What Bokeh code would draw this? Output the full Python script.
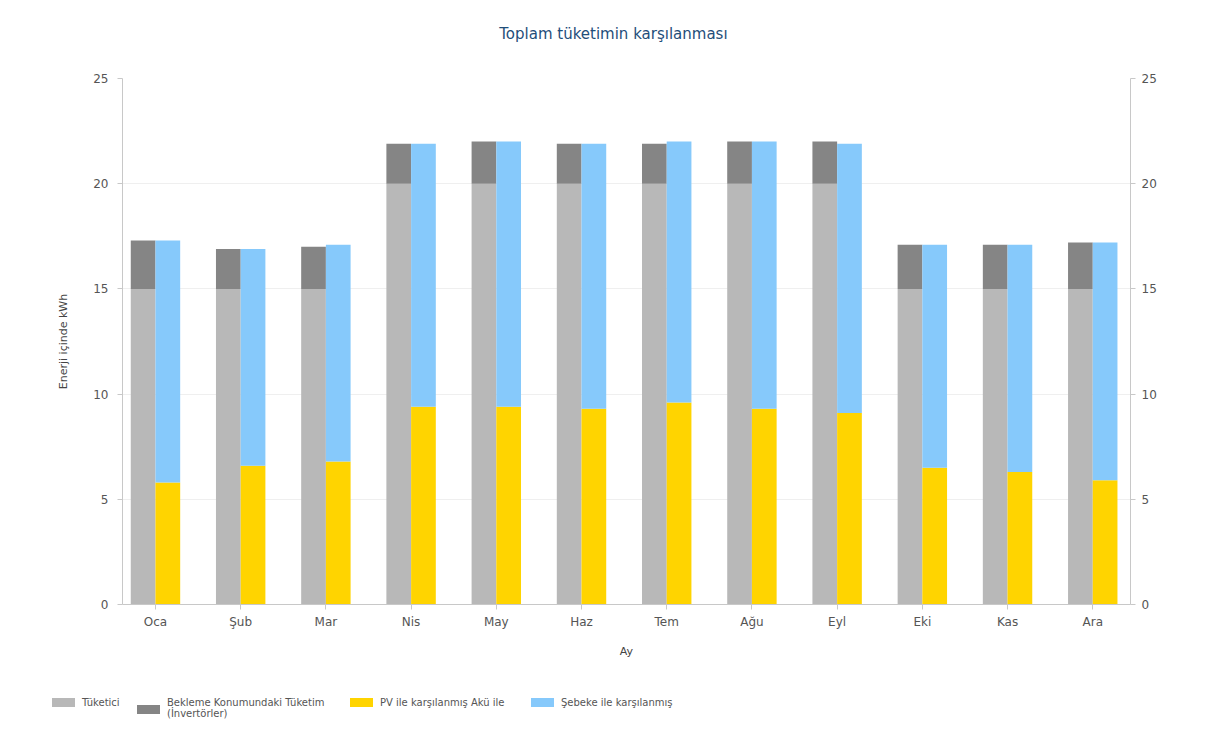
from bokeh.plotting import figure
from bokeh.layouts import column
from bokeh.models import (ColumnDataSource, LinearAxis, FixedTicker, Range1d, Div, Label)
from bokeh.transform import dodge
from bokeh.embed import file_html
from bokeh.resources import INLINE

months = ["Oca", "Şub", "Mar", "Nis", "May", "Haz", "Tem", "Ağu", "Eyl", "Eki", "Kas", "Ara"]
tuketici = [15, 15, 15, 20, 20, 20, 20, 20, 20, 15, 15, 15]
bekleme = [2.3, 1.9, 2.0, 1.9, 2.0, 1.9, 1.9, 2.0, 2.0, 2.1, 2.1, 2.2]
pv_aku = [5.8, 6.6, 6.8, 9.4, 9.4, 9.3, 9.6, 9.3, 9.1, 6.5, 6.3, 5.9]
sebeke = [11.5, 10.3, 10.3, 12.5, 12.6, 12.6, 12.4, 12.7, 12.8, 10.6, 10.8, 11.3]
y_ticks = [0, 5, 10, 15, 20, 25]

title_text = "Toplam tüketimin karşılanması"
labels = ["Tüketici", "Bekleme Konumundaki Tüketim<br>(İnvertörler)",
          "PV ile karşılanmış Akü ile", "Şebeke ile karşılanmış"]
colors = ["#b8b8b8", "#858585", "#ffd400", "#86c9fb"]

src = ColumnDataSource(dict(x=list(range(len(months))), tuketici=tuketici,
                            bekleme=bekleme, pv=pv_aku, sebeke=sebeke))

FONT = "DejaVu Sans"

# title strip
tf = figure(width=1200, height=48, output_backend="svg", toolbar_location=None,
            x_range=Range1d(0, 1), y_range=Range1d(0, 1),
            x_axis_type=None, y_axis_type=None,
            min_border_left=0, min_border_right=0, min_border_top=0, min_border_bottom=0)
tf.outline_line_color = None
tf.xgrid.visible = False
tf.ygrid.visible = False
tf.add_layout(Label(x=0.487, y=0.31, text=title_text, text_align="center",
                    text_baseline="middle", text_font=FONT, text_font_size="15px",
                    text_color="#1f4e7a"))

p = figure(width=1200, height=642, output_backend="svg", toolbar_location=None,
           x_range=Range1d(-0.387, 11.443), y_range=Range1d(0, 25),
           min_border_left=122, min_border_right=70, min_border_top=30,
           min_border_bottom=86, title=None)
p.outline_line_color = None
p.background_fill_color = "white"
p.border_fill_color = "white"

r1 = p.vbar_stack(["tuketici", "bekleme"], x=dodge("x", -0.145, range=p.x_range),
                  width=0.29, source=src, color=colors[:2], line_color=None)
r2 = p.vbar_stack(["pv", "sebeke"], x=dodge("x", 0.145, range=p.x_range),
                  width=0.29, source=src, color=colors[2:], line_color=None)

# axes
xa = p.xaxis[0]
xa.ticker = FixedTicker(ticks=list(range(len(months))))
xa.major_label_overrides = {i: m for i, m in enumerate(months)}
xa.axis_label = "Ay"
ya = p.yaxis[0]
ya.ticker = FixedTicker(ticks=y_ticks)
ya.axis_label = "Enerji içinde kWh"
ra = LinearAxis(ticker=FixedTicker(ticks=y_ticks))
p.add_layout(ra, "right")

for ax in [xa, ya, ra]:
    ax.axis_line_color = "#c8c8c8"
    ax.major_tick_line_color = "#c8c8c8"
    ax.major_tick_out = 5
    ax.major_tick_in = 0
    ax.minor_tick_line_color = None
    ax.major_label_text_font = FONT
    ax.major_label_text_font_size = "12px"
    ax.major_label_text_color = "#555555"
    ax.axis_label_text_font = FONT
    ax.axis_label_text_font_size = "11px"
    ax.axis_label_text_color = "#444444"
    ax.axis_label_text_font_style = "normal"
xa.major_label_standoff = 5
xa.axis_label_standoff = 13
ya.major_label_standoff = 9
ya.axis_label_standoff = 20
ra.major_label_standoff = 6

p.xgrid.grid_line_color = None
p.ygrid.ticker = FixedTicker(ticks=y_ticks)
p.ygrid.grid_line_color = "#efefef"

# legend strip (HTML) under the chart
sw_left = [52, 137, 350, 531]
sw_top = [8, 15, 8, 8]
parts = []
for lab, col, x0, t0 in zip(labels, colors, sw_left, sw_top):
    parts.append(
        f'<div style="position:absolute;left:{x0}px;top:{t0}px;width:23px;height:9px;'
        f'background:{col};"></div>'
        f'<div style="position:absolute;left:{x0 + 30}px;top:7px;font-family:\'{FONT}\';'
        f'font-size:10px;line-height:11px;color:#555555;white-space:nowrap;">{lab}</div>')
legend_div = Div(text="".join(parts), width=1200, height=40,
                 styles={"position": "relative", "margin": "0", "padding": "0"})

layout = column(tf, p, legend_div, spacing=0)
open("out.html", "w").write(file_html(layout, INLINE))
